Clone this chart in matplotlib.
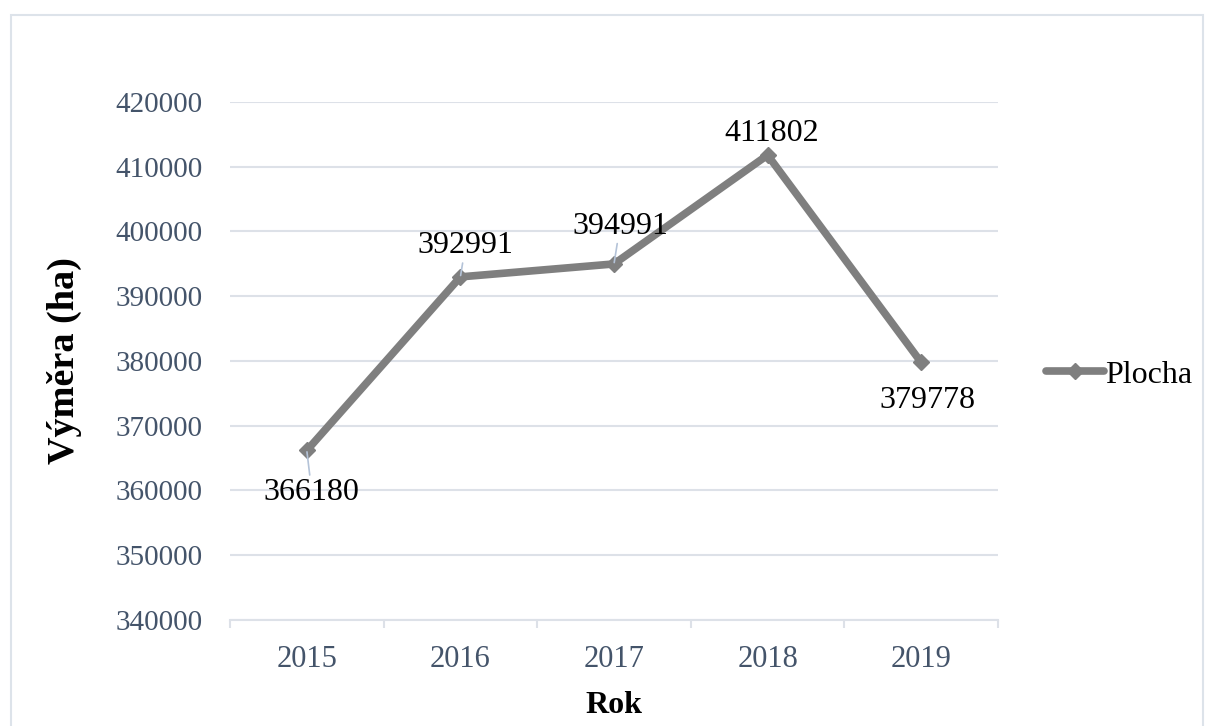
import numpy as np
import matplotlib.pyplot as plt
from matplotlib.patches import Rectangle

plt.rcParams['font.family'] = ['Liberation Serif', 'DejaVu Serif']

years = ['2015', '2016', '2017', '2018', '2019']
area = [366180, 392991, 394991, 411802, 379778]
# baseline offsets of the value labels in points (dx, dy) and leader-line flags
label_offsets = [(3.6, -35.5), (3.6, 17.0), (4.3, 21.7), (2.9, 9.8), (4.3, -33.0)]
leaders = [True, True, True, False, False]

y_ticks = np.arange(340000, 420001, 10000)

fig = plt.figure(figsize=(12.07, 7.26), dpi=100)
ax = fig.add_axes([230 / 1207, 1 - 620 / 726, 768 / 1207, 518 / 726])

# chart border
fig.patches.append(Rectangle((11 / 1207, -0.05), 1192 / 1207, 1.05 - 15 / 726,
                             transform=fig.transFigure, fill=False,
                             edgecolor='#dde3ea', linewidth=1.5))

x = np.arange(len(years))
line_color = '#7f7f7f'
ax.plot(x, area, color=line_color, linewidth=5.5, marker='D', markersize=8.5,
        solid_joinstyle='round', solid_capstyle='round', label='Plocha', zorder=3)

for xi, val, (dx, dy), lead in zip(x, area, label_offsets, leaders):
    props = None
    if lead:
        props = dict(arrowstyle='-', color='#b4c3d8', linewidth=1.2, shrinkA=0, shrinkB=1)
    ax.annotate(str(val), xy=(xi, val), xytext=(dx, dy), textcoords='offset points',
                ha='center', va='baseline', fontsize=23, color='black',
                arrowprops=props, zorder=4)

ax.set_xlim(-0.5, len(years) - 0.5)
ax.set_ylim(340000, 420000)
ax.set_yticks(y_ticks)
ax.set_yticklabels([str(v) for v in y_ticks])
ax.grid(axis='y', color='#dde1e8', linewidth=1.5, zorder=0)
ax.set_axisbelow(True)

# category boundaries as major ticks, labels centred between them
ax.set_xticks(np.arange(-0.5, len(years), 1.0))
ax.set_xticklabels([])
ax.set_xticks(x, minor=True)
ax.set_xticklabels(years, minor=True)
ax.tick_params(axis='x', which='major', length=6, width=1.5, color='#dde1e8', direction='out')
ax.tick_params(axis='x', which='minor', length=0, pad=18, labelsize=22, labelcolor='#44546a')
ax.tick_params(axis='y', length=0, pad=20, labelsize=21, labelcolor='#44546a')

for side in ['top', 'right', 'left']:
    ax.spines[side].set_visible(False)
ax.spines['bottom'].set_color('#dde1e8')
ax.spines['bottom'].set_linewidth(1.5)

ax.set_xlabel('Rok', fontsize=23, fontweight='bold', labelpad=12)
ax.set_ylabel('Výměra (ha)', fontsize=27.5, fontweight='bold', labelpad=24)

fig.legend(loc='center left', bbox_to_anchor=(1046 / 1207, 1 - 375 / 726), frameon=False,
           fontsize=23, handlelength=1.8, handletextpad=0.05, borderpad=0, borderaxespad=0)

fig.savefig('out.png', dpi=100)
